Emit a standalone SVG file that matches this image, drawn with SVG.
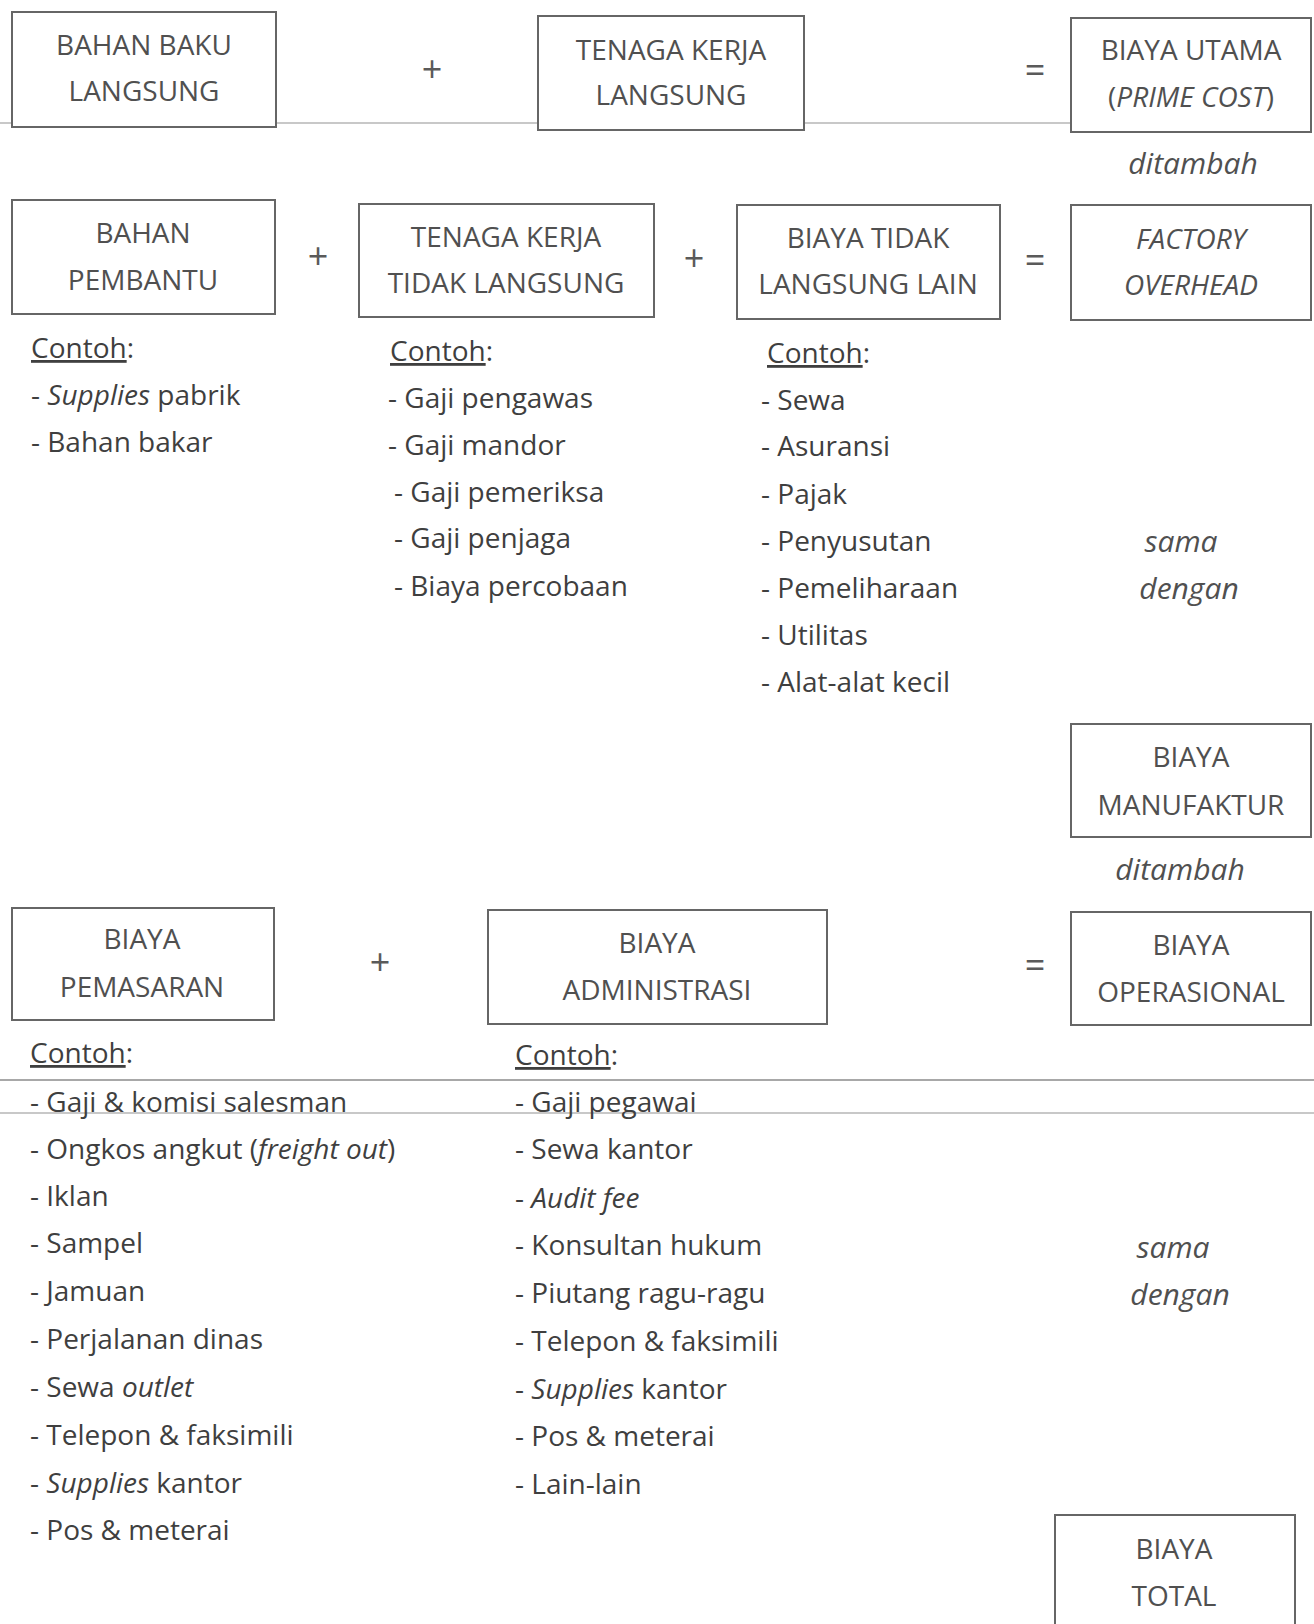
<svg xmlns="http://www.w3.org/2000/svg" width="1314" height="1624" viewBox="0 0 1314 1624">
<style>
.box{fill:#fff;stroke:#666;stroke-width:2}
.bt{font-family:"Open Sans","Liberation Sans",sans-serif;font-size:28px;fill:#505050;text-anchor:middle}
.ib{font-family:"Open Sans","Liberation Sans",sans-serif;font-size:30px;fill:#505050;text-anchor:middle;font-style:italic}
.op{font-family:"Open Sans","Liberation Sans",sans-serif;font-size:36px;fill:#5a5a5a;text-anchor:middle}
.li{font-family:"Open Sans","Liberation Sans",sans-serif;font-size:28px;fill:#3f3f3f}
.it{font-style:italic}
.u{text-decoration:underline}
.scan{stroke:#c8c8c8;stroke-width:2;fill:none}
</style>
<rect width="1314" height="1624" fill="#fff"/>
<g id="scanlines">
<line class="scan" x1="0" y1="123" x2="1071" y2="123"/>
<line class="scan" x1="0" y1="1080" x2="1314" y2="1080" style="stroke:#a8a8a8"/>
<line class="scan" x1="0" y1="1113" x2="1314" y2="1113"/>
</g>
<g id="operators">
<text class="op" x="432" y="82">+</text>
<text class="op" x="1035" y="83">=</text>
<text class="op" x="318" y="269">+</text>
<text class="op" x="694" y="271">+</text>
<text class="op" x="1035" y="273">=</text>
<text class="op" x="380" y="975">+</text>
<text class="op" x="1035" y="978">=</text>
<text class="ib" x="1193" y="174">ditambah</text>
<text class="ib" x="1181" y="552">sama</text>
<text class="ib" x="1189" y="599">dengan</text>
<text class="ib" x="1180" y="880">ditambah</text>
<text class="ib" x="1173" y="1258">sama</text>
<text class="ib" x="1180" y="1305">dengan</text>
</g>
<g id="bahan-baku"><rect class="box" x="12" y="12" width="264" height="115"/><text class="bt" x="144" y="55">BAHAN BAKU</text><text class="bt" x="144" y="101">LANGSUNG</text></g>
<g id="tenaga-kerja"><rect class="box" x="538" y="16" width="266" height="114"/><text class="bt" x="671" y="60">TENAGA KERJA</text><text class="bt" x="671" y="105">LANGSUNG</text></g>
<g id="biaya-utama"><rect class="box" x="1071" y="18" width="240" height="114"/><text class="bt" x="1191" y="60">BIAYA UTAMA</text><text class="bt" x="1191" y="107">(<tspan class="it">PRIME COST</tspan>)</text></g>
<g id="bahan-pembantu"><rect class="box" x="12" y="200" width="263" height="114"/><text class="bt" x="143" y="243">BAHAN</text><text class="bt" x="143" y="290">PEMBANTU</text></g>
<g id="tktl"><rect class="box" x="359" y="204" width="295" height="113"/><text class="bt" x="506" y="247">TENAGA KERJA</text><text class="bt" x="506" y="293">TIDAK LANGSUNG</text></g>
<g id="btll"><rect class="box" x="737" y="205" width="263" height="114"/><text class="bt" x="868" y="248">BIAYA TIDAK</text><text class="bt" x="868" y="294">LANGSUNG LAIN</text></g>
<g id="factory-overhead"><rect class="box" x="1071" y="205" width="240" height="115"/><text class="bt it" x="1191" y="249">FACTORY</text><text class="bt it" x="1191" y="295">OVERHEAD</text></g>
<g id="biaya-manufaktur"><rect class="box" x="1071" y="724" width="240" height="113"/><text class="bt" x="1191" y="767">BIAYA</text><text class="bt" x="1191" y="815">MANUFAKTUR</text></g>
<g id="biaya-pemasaran"><rect class="box" x="12" y="908" width="262" height="112"/><text class="bt" x="142" y="949">BIAYA</text><text class="bt" x="142" y="997">PEMASARAN</text></g>
<g id="biaya-administrasi"><rect class="box" x="488" y="910" width="339" height="114"/><text class="bt" x="657" y="953">BIAYA</text><text class="bt" x="657" y="1000">ADMINISTRASI</text></g>
<g id="biaya-operasional"><rect class="box" x="1071" y="912" width="240" height="113"/><text class="bt" x="1191" y="955">BIAYA</text><text class="bt" x="1191" y="1002">OPERASIONAL</text></g>
<g id="biaya-total"><rect class="box" x="1055" y="1515" width="240" height="130"/><text class="bt" x="1174" y="1559">BIAYA</text><text class="bt" x="1174" y="1606">TOTAL</text></g>
<g id="list-pembantu">
<text class="li" x="31" y="358"><tspan class="u">Contoh</tspan>:</text>
<text class="li" x="31" y="405">- <tspan class="it">Supplies</tspan> pabrik</text>
<text class="li" x="31" y="452">- Bahan bakar</text>
</g>
<g id="list-tktl">
<text class="li" x="390" y="361"><tspan class="u">Contoh</tspan>:</text>
<text class="li" x="388" y="408">- Gaji pengawas</text>
<text class="li" x="388" y="455">- Gaji mandor</text>
<text class="li" x="394" y="502">- Gaji pemeriksa</text>
<text class="li" x="394" y="548">- Gaji penjaga</text>
<text class="li" x="394" y="596">- Biaya percobaan</text>
</g>
<g id="list-btll">
<text class="li" x="767" y="363"><tspan class="u">Contoh</tspan>:</text>
<text class="li" x="761" y="410">- Sewa</text>
<text class="li" x="761" y="456">- Asuransi</text>
<text class="li" x="761" y="504">- Pajak</text>
<text class="li" x="761" y="551">- Penyusutan</text>
<text class="li" x="761" y="598">- Pemeliharaan</text>
<text class="li" x="761" y="645">- Utilitas</text>
<text class="li" x="761" y="692">- Alat-alat kecil</text>
</g>
<g id="list-pemasaran">
<text class="li" x="30" y="1063"><tspan class="u">Contoh</tspan>:</text>
<text class="li" x="30" y="1112">- Gaji &amp; komisi salesman</text>
<text class="li" x="30" y="1159">- Ongkos angkut (<tspan class="it">freight out</tspan>)</text>
<text class="li" x="30" y="1206">- Iklan</text>
<text class="li" x="30" y="1253">- Sampel</text>
<text class="li" x="30" y="1301">- Jamuan</text>
<text class="li" x="30" y="1349">- Perjalanan dinas</text>
<text class="li" x="30" y="1397">- Sewa <tspan class="it">outlet</tspan></text>
<text class="li" x="30" y="1445">- Telepon &amp; faksimili</text>
<text class="li" x="30" y="1493">- <tspan class="it">Supplies</tspan> kantor</text>
<text class="li" x="30" y="1540">- Pos &amp; meterai</text>
</g>
<g id="list-administrasi">
<text class="li" x="515" y="1065"><tspan class="u">Contoh</tspan>:</text>
<text class="li" x="515" y="1112">- Gaji pegawai</text>
<text class="li" x="515" y="1159">- Sewa kantor</text>
<text class="li" x="515" y="1208">- <tspan class="it">Audit fee</tspan></text>
<text class="li" x="515" y="1255">- Konsultan hukum</text>
<text class="li" x="515" y="1303">- Piutang ragu-ragu</text>
<text class="li" x="515" y="1351">- Telepon &amp; faksimili</text>
<text class="li" x="515" y="1399">- <tspan class="it">Supplies</tspan> kantor</text>
<text class="li" x="515" y="1446">- Pos &amp; meterai</text>
<text class="li" x="515" y="1494">- Lain-lain</text>
</g>
</svg>
